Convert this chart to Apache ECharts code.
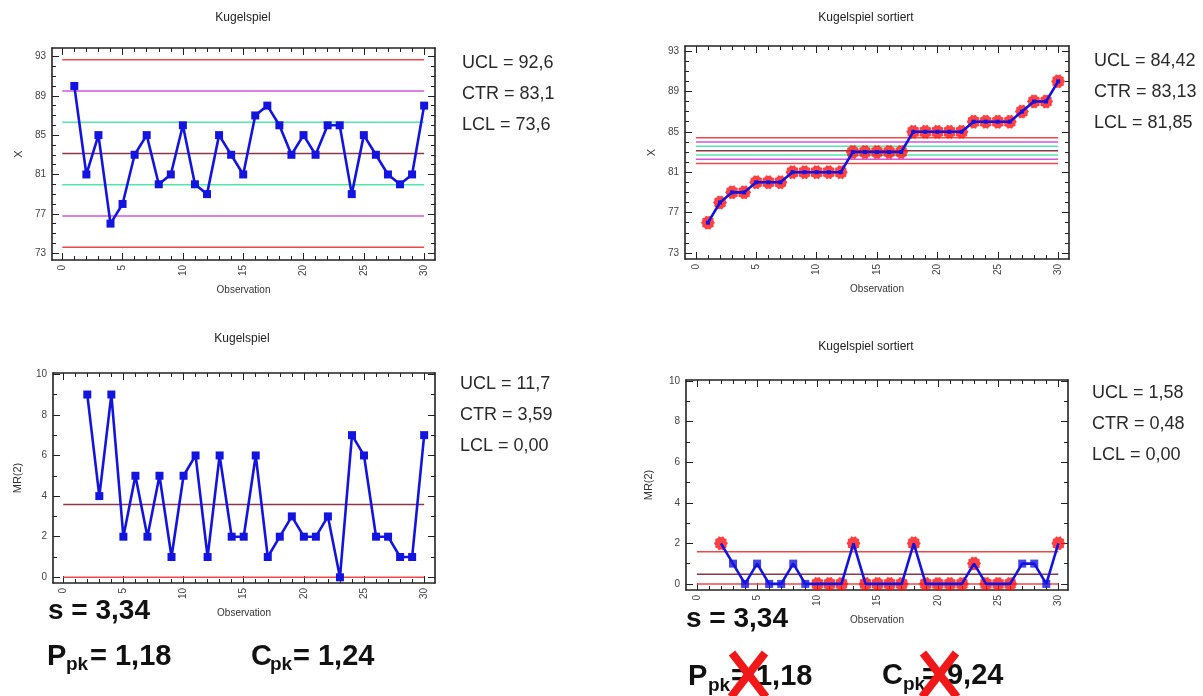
<!DOCTYPE html>
<html><head><meta charset="utf-8">
<script src="https://cdn.jsdelivr.net/npm/echarts@6/dist/echarts.min.js"></script>
<style>html,body{margin:0;padding:0;background:#fff}#c{width:1203px;height:696px}</style>
</head><body><div id="c"></div>
<script>
// ---------- data ----------
const observations = [1,2,3,4,5,6,7,8,9,10,11,12,13,14,15,16,17,18,19,20,21,22,23,24,25,26,27,28,29,30];
const xValues  = [90,81,85,76,78,83,85,80,81,86,80,79,85,83,81,87,88,86,83,85,83,86,86,79,85,83,81,80,81,88];
const xSorted  = [76,78,79,79,80,80,80,81,81,81,81,81,83,83,83,83,83,85,85,85,85,85,86,86,86,86,87,88,88,90];
const mrValues = [null,9,4,9,2,5,2,5,1,5,6,1,6,2,2,6,1,2,3,2,2,3,0,7,6,2,2,1,1,7];
const mrSorted = [null,2,1,0,1,0,0,1,0,0,0,0,2,0,0,0,0,2,0,0,0,0,1,0,0,0,1,1,0,2];
const mrSortedFlagged = [2,10,11,12,13,14,15,16,17,18,19,20,21,22,23,24,25,26,30];
// control lines: UCL, +2s, +1s, CTR, -1s, -2s, LCL
const xLimits       = [92.67, 89.49, 86.31, 83.13, 79.95, 76.78, 73.60];
const xSortedLimits = [84.42, 83.99, 83.56, 83.13, 82.70, 82.28, 81.85];
const mrLimits       = [11.72, 3.59, 0];
const mrSortedLimits = [1.58, 0.48, 0];
const xTickLabels = [73,77,81,85,89,93];
const xTickMarks  = [73,74,75,76,77,78,79,80,81,82,83,84,85,86,87,88,89,90,91,92,93];
const mrTickLabels = [0,2,4,6,8,10];
const mrTickMarks  = [0,1,2,3,4,5,6,7,8,9,10];
const obsTickLabels = [0,5,10,15,20,25,30];
const obsTickMarks  = [0,1,2,3,4,5,6,7,8,9,10,11,12,13,14,15,16,17,18,19,20,21,22,23,24,25,26,27,28,29,30];
const statTexts = {
  tl: ['UCL = 92,6', 'CTR = 83,1', 'LCL = 73,6'],
  tr: ['UCL = 84,42', 'CTR = 83,13', 'LCL = 81,85'],
  bl: ['UCL = 11,7', 'CTR = 3,59', 'LCL = 0,00'],
  br: ['UCL = 1,58', 'CTR = 0,48', 'LCL = 0,00']
};

// ---------- styles ----------
const RED = '#f0484a', MAG = '#d653e0', GRN = '#52e6ab', MAR = '#8a3848', BLUE = '#1414e0', STAR = '#ff1010';
const sevenColors = [RED, MAG, GRN, MAR, GRN, MAG, RED];
const mrColors = [RED, MAR, RED];
const NARROW = '"Liberation Sans Narrow","Liberation Sans",Arial,sans-serif';
const SANS = '"Liberation Sans",Arial,sans-serif';

function starPath(n, r1, r2) {
  let d = '';
  for (let i = 0; i < 2 * n; i++) {
    const r = i % 2 ? r2 : r1, a = Math.PI * i / n;
    d += (i ? 'L' : 'M') + (50 + 50 * r * Math.cos(a)).toFixed(1) + ' ' + (50 + 50 * r * Math.sin(a)).toFixed(1);
  }
  return 'path://' + d + 'Z';
}
const STAR_SYM = starPath(10, 1, 0.84);

const grids = [
  {left: 52, top: 48, width: 383, height: 212},
  {left: 685, top: 46, width: 384, height: 213},
  {left: 53, top: 373, width: 382, height: 210},
  {left: 686, top: 380, width: 382, height: 210}
];
const xRanges = [[-0.85, 30.9], [-0.9, 30.9], [-0.85, 30.9], [-0.9, 30.8]];
const yRanges = [[72.3, 93.86], [72.4, 93.5], [-0.28, 10.06], [-0.3, 10.05]];
const yNames = ['X', 'X', 'MR(2)', 'MR(2)'];
const yNameGaps = [28, 28, 30, 32];

const xAxes = [], yAxes = [];
const xMain = [], yMain = [];
const lineStyleFrame = {color: '#222', width: 1.6};
for (let g = 0; g < 4; g++) {
  const isX = g < 2;
  const yl = isX ? xTickLabels : mrTickLabels, yt = isX ? xTickMarks : mrTickMarks;
  ['bottom', 'top'].forEach(pos => {
    if (pos === 'bottom') xMain.push(xAxes.length);
    xAxes.push({
      type: 'value', gridIndex: g, position: pos, min: xRanges[g][0], max: xRanges[g][1],
      axisLine: {show: true, onZero: false, lineStyle: lineStyleFrame},
      axisTick: {show: true, inside: true, length: 7, customValues: obsTickLabels, lineStyle: {color: '#222'}},
      axisLabel: pos === 'bottom'
        ? {show: true, customValues: obsTickLabels, rotate: 90, fontSize: 10, color: '#444', margin: 5, fontFamily: NARROW}
        : {show: false},
      splitLine: {show: false},
      name: pos === 'bottom' ? 'Observation' : '', nameLocation: 'middle', nameGap: 25,
      nameTextStyle: {fontSize: 10, color: '#333', fontFamily: NARROW}
    });
    xAxes.push({
      type: 'value', gridIndex: g, position: pos, min: xRanges[g][0], max: xRanges[g][1],
      axisLine: {show: false, onZero: false},
      axisTick: {show: true, inside: true, length: 4, customValues: obsTickMarks, lineStyle: {color: '#222'}},
      axisLabel: {show: false}, splitLine: {show: false}
    });
  });
  ['left', 'right'].forEach(pos => {
    if (pos === 'left') yMain.push(yAxes.length);
    yAxes.push({
      type: 'value', gridIndex: g, position: pos, min: yRanges[g][0], max: yRanges[g][1],
      axisLine: {show: true, onZero: false, lineStyle: lineStyleFrame},
      axisTick: {show: true, inside: true, length: 7, customValues: yl, lineStyle: {color: '#222'}},
      axisLabel: pos === 'left'
        ? {show: true, customValues: yl, fontSize: 10, color: '#444', margin: 6, fontFamily: NARROW}
        : {show: false},
      splitLine: {show: false},
      name: pos === 'left' ? yNames[g] : '', nameLocation: 'middle', nameGap: yNameGaps[g], nameRotate: 90,
      nameTextStyle: {fontSize: 11, color: '#333', fontFamily: NARROW}
    });
    yAxes.push({
      type: 'value', gridIndex: g, position: pos, min: yRanges[g][0], max: yRanges[g][1],
      axisLine: {show: false, onZero: false},
      axisTick: {show: true, inside: true, length: 4, customValues: yt, lineStyle: {color: '#222'}},
      axisLabel: {show: false}, splitLine: {show: false}
    });
  });
}

const series = [];
function ax(g) { return {xAxisIndex: xMain[g], yAxisIndex: yMain[g]}; }
function limitLines(g, vals, colors) {
  vals.forEach((v, i) => series.push(Object.assign({
    type: 'line', data: [[0, v], [30, v]],
    symbol: 'none', silent: true, lineStyle: {color: colors[i], width: 1.5}, z: 1, clip: true
  }, ax(g))));
}
function pts(vals) { return vals.map((v, i) => [observations[i], v]).filter(p => p[1] !== null); }

limitLines(0, xLimits, sevenColors);
series.push(Object.assign({type: 'line', data: pts(xValues), symbol: 'rect', symbolSize: 8,
  itemStyle: {color: BLUE}, lineStyle: {color: BLUE, width: 2.6}, z: 5}, ax(0)));

limitLines(1, xSortedLimits, sevenColors);
series.push(Object.assign({type: 'scatter', data: pts(xSorted), symbol: STAR_SYM, symbolSize: 14,
  itemStyle: {color: STAR}, z: 4}, ax(1)));
series.push(Object.assign({type: 'line', data: pts(xSorted), symbol: 'rect', symbolSize: 4,
  itemStyle: {color: BLUE}, lineStyle: {color: BLUE, width: 2.6}, z: 5}, ax(1)));

limitLines(2, mrLimits, mrColors);
series.push(Object.assign({type: 'line', data: pts(mrValues), symbol: 'rect', symbolSize: 8,
  itemStyle: {color: BLUE}, lineStyle: {color: BLUE, width: 2.6}, z: 5}, ax(2)));

limitLines(3, mrSortedLimits, mrColors);
const flaggedPts = pts(mrSorted).filter(p => mrSortedFlagged.includes(p[0]));
const okPts = pts(mrSorted).filter(p => !mrSortedFlagged.includes(p[0]));
series.push(Object.assign({type: 'scatter', data: flaggedPts, symbol: STAR_SYM, symbolSize: 14,
  itemStyle: {color: STAR}, z: 4}, ax(3)));
series.push(Object.assign({type: 'line', data: pts(mrSorted), symbol: 'none',
  lineStyle: {color: BLUE, width: 2.6}, z: 5}, ax(3)));
series.push(Object.assign({type: 'scatter', data: okPts, symbol: 'rect', symbolSize: 8,
  itemStyle: {color: BLUE}, z: 6}, ax(3)));

// ---------- graphics (titles, stats text) ----------
const graphic = [];
function txt(x, y, s, size, opts) {
  graphic.push({type: 'text', x: x, y: y, style: Object.assign({text: s, fontSize: size,
    fontFamily: SANS, fill: '#222', textVerticalAlign: 'middle'}, opts || {})});
}
txt(243, 18, 'Kugelspiel', 12, {textAlign: 'center', fontFamily: NARROW});
txt(866, 18, 'Kugelspiel sortiert', 12, {textAlign: 'center', fontFamily: NARROW});
txt(242, 339, 'Kugelspiel', 12, {textAlign: 'center', fontFamily: NARROW});
txt(866, 347, 'Kugelspiel sortiert', 12, {textAlign: 'center', fontFamily: NARROW});

[['tl', 462, 63], ['tr', 1094, 61], ['bl', 460, 384], ['br', 1092, 393]].forEach(([k, x, y]) => {
  statTexts[k].forEach((s, i) => txt(x, y + i * 31, s, 18, {fill: '#2a2a2a'}));
});

const B = {fontWeight: 'bold', fill: '#111'};
txt(48, 611, 's = 3,34', 28, B);
txt(686, 619, 's = 3,34', 28, B);
txt(47, 657, 'P', 29, B); txt(66, 665, 'pk', 19, B); txt(90, 657, '= 1,18', 29, B);
txt(251, 657, 'C', 29, B); txt(270, 665, 'pk', 19, B); txt(293, 657, '= 1,24', 29, B);
txt(688, 677, 'P', 29, B); txt(708, 686, 'pk', 19, B); txt(731, 677, '= 1,18', 29, B);
txt(882, 676, 'C', 29, B); txt(903, 685, 'pk', 19, B); txt(922, 676, '= 9,24', 29, B);
[[748, 675], [939, 675]].forEach(([cx, cy]) => {
  graphic.push({type: 'line', shape: {x1: cx - 16, y1: cy - 22, x2: cx + 18, y2: cy + 22}, style: {stroke: '#f01818', lineWidth: 8}, z: 100});
  graphic.push({type: 'line', shape: {x1: cx + 17, y1: cy - 22, x2: cx - 17, y2: cy + 22}, style: {stroke: '#f01818', lineWidth: 8}, z: 100});
});

const chart = echarts.init(document.getElementById('c'), null, {renderer: 'canvas'});
chart.setOption({
  animation: false,
  backgroundColor: '#fff',
  grid: grids,
  xAxis: xAxes,
  yAxis: yAxes,
  series: series,
  graphic: graphic
});
</script></body></html>
